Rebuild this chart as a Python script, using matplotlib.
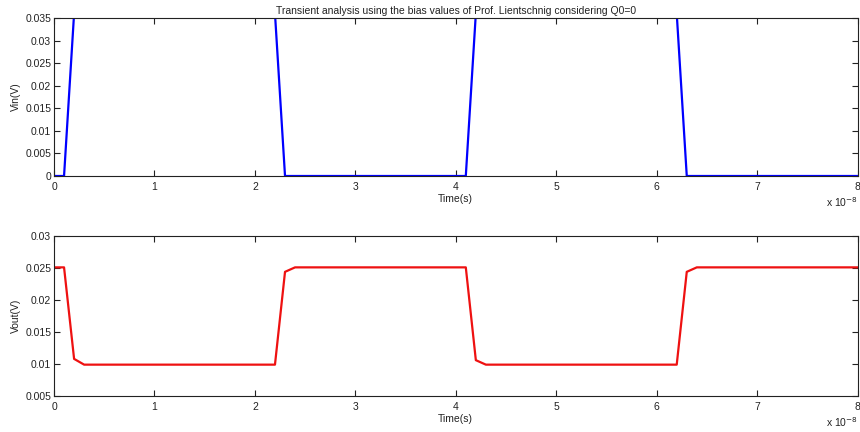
import matplotlib
matplotlib.use("Agg")
import matplotlib.pyplot as plt
from matplotlib.ticker import FuncFormatter

plt.rcParams['font.family'] = ['Liberation Sans', 'DejaVu Sans']

# Time samples in seconds
t_in = [0.0, 0.1e-8, 0.2e-8, 2.2e-8, 2.3e-8, 4.1e-8, 4.2e-8, 6.2e-8, 6.3e-8, 8.0e-8]
v_in = [0.0, 0.0, 0.036, 0.036, 0.0, 0.0, 0.036, 0.036, 0.0, 0.0]

t_out = [0.0, 0.1e-8, 0.2e-8, 0.3e-8, 2.2e-8, 2.3e-8, 2.4e-8, 4.1e-8, 4.2e-8,
         4.3e-8, 6.2e-8, 6.3e-8, 6.4e-8, 8.0e-8]
v_out = [0.0251, 0.0251, 0.0108, 0.0099, 0.0099, 0.0244, 0.0251, 0.0251, 0.0106,
         0.0099, 0.0099, 0.0244, 0.0251, 0.0251]

x_ticks = [i * 1e-8 for i in range(9)]
vin_ticks = [0, 0.005, 0.01, 0.015, 0.02, 0.025, 0.03, 0.035]
vout_ticks = [0.005, 0.01, 0.015, 0.02, 0.025, 0.03]

title = "Transient analysis using the bias values of Prof. Lientschnig considering Q0=0"

FS = 7.5
fig = plt.figure(figsize=(8.6, 4.32), dpi=100)
ax1 = fig.add_axes([0.0628, 0.5926, 0.9343, 0.3657])
ax2 = fig.add_axes([0.0628, 0.0833, 0.9343, 0.3704])


def yfmt(v, pos):
    s = ("%.3f" % v).rstrip('0').rstrip('.')
    return s


def style(ax, yticks, ylabel):
    ax.set_xlim(0, 8e-8)
    ax.set_xticks(x_ticks)
    ax.xaxis.set_major_formatter(FuncFormatter(lambda v, p: "%d" % round(v / 1e-8)))
    ax.set_yticks(yticks)
    ax.set_ylim(yticks[0], yticks[-1])
    ax.yaxis.set_major_formatter(FuncFormatter(yfmt))
    ax.tick_params(direction='in', length=4, width=0.8, top=True, right=True,
                   labelsize=FS, colors='#222222', pad=2)
    ax.tick_params(axis='x', pad=4)
    for s in ax.spines.values():
        s.set_color('#222222')
        s.set_linewidth(0.8)
    ax.set_ylabel(ylabel, fontsize=FS, labelpad=3, color='#222222')
    ax.set_xlabel("Time(s)", fontsize=FS, labelpad=2, color='#222222')
    ax.text(1.0, -0.12, r"x 10$^{-8}$", transform=ax.transAxes, fontsize=FS,
            ha='right', va='top', color='#222222')


ax1.plot(t_in, v_in, color='#0000ff', linewidth=1.6)
style(ax1, vin_ticks, "Vin(V)")
ax1.set_title(title, fontsize=FS, pad=3, color='#222222')

ax2.plot(t_out, v_out, color='#ee1111', linewidth=1.6)
style(ax2, vout_ticks, "Vout(V)")

fig.savefig("out.png", dpi=100)
